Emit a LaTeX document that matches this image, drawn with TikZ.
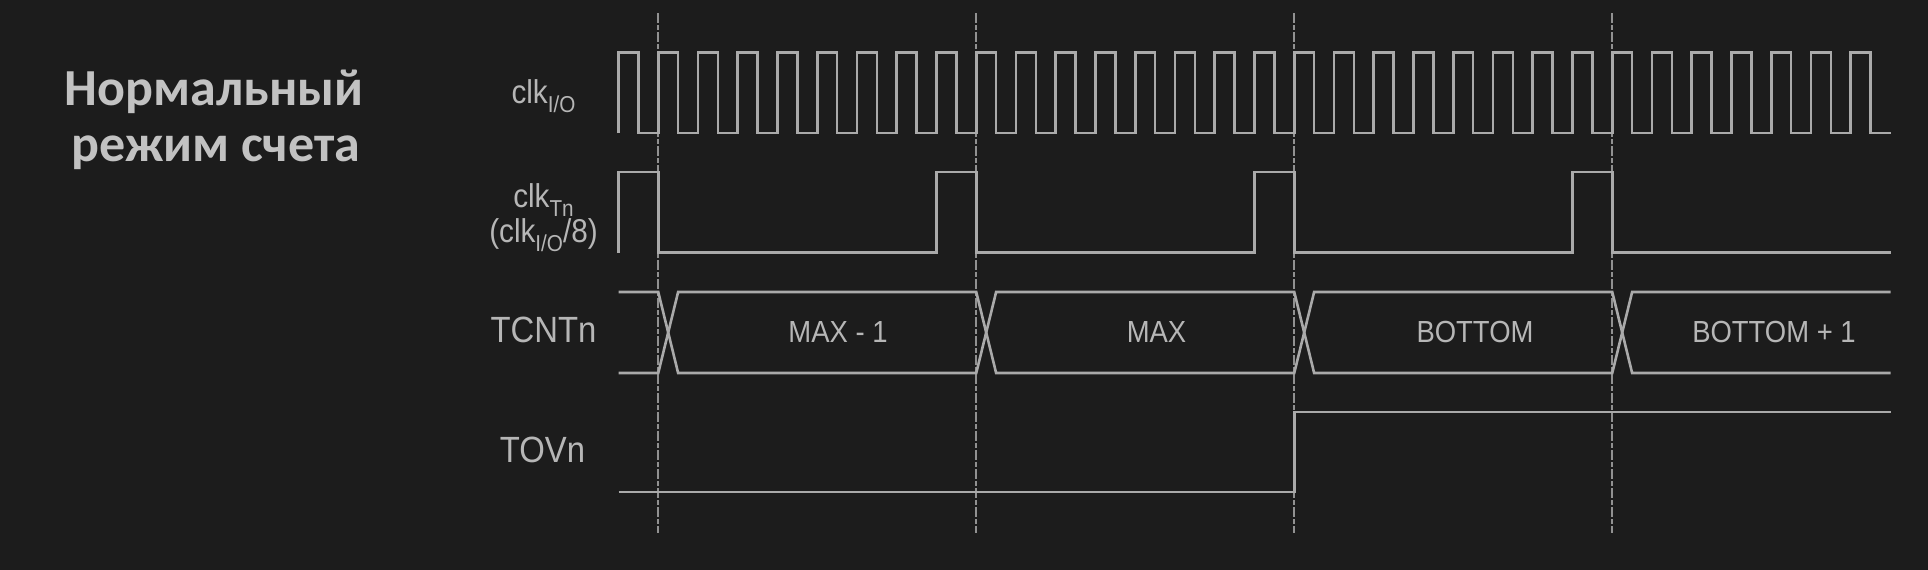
\documentclass[tikz,border=0pt]{standalone}
\usepackage{fontspec}
\setmainfont{Liberation Sans}
\newfontfamily\titlefont{Carlito}
\newfontfamily\condfont[FakeStretch=0.9]{Liberation Sans}
\definecolor{bg}{RGB}{28,28,28}
\definecolor{sig}{RGB}{170,170,170}
\definecolor{guidec}{RGB}{145,145,145}
\definecolor{lbl}{RGB}{182,182,182}
\definecolor{ttl}{RGB}{194,194,194}
\begin{document}
\begin{tikzpicture}[x=1pt,y=-1pt,
  signal/.style={draw=sig, line width=2.6pt, line join=miter},
  guide/.style={draw=guidec, line width=2pt, dash pattern=on 10pt off 2pt on 5pt off 2pt},
  lab/.style={text=lbl, inner sep=0pt, anchor=base, font=\condfont\fontsize{33}{33}\selectfont},
  biglab/.style={text=lbl, inner sep=0pt, anchor=base, font=\condfont\fontsize{36.5}{36.5}\selectfont},
  buslab/.style={text=lbl, inner sep=0pt, anchor=base, font=\condfont\fontsize{30.5}{30.5}\selectfont},
  titletext/.style={text=ttl, inner sep=0pt, anchor=base, font=\titlefont\bfseries\fontsize{52}{52}\selectfont}]
\fill[bg] (0,0) rectangle (1928,570);
\useasboundingbox (0,0) rectangle (1928,570);
\def\subtxt#1{\raisebox{-9pt}{\fontsize{23}{23}\selectfont #1}}
% guides
\foreach \d [count=\k] in {658.25,976.25,1294.25,1612.25}{
  \coordinate (gt\k) at (\d,13);
  \coordinate (gb\k) at (\d,533);
  \draw[guide] (gt\k) -- (gb\k);
}
% clk I/O
\coordinate (c0) at (618.5,133);
\draw[signal] (c0) \foreach \i in {0,...,31}{ -- ++(0,-80.5) -- ++(19.875,0) -- ++(0,80.5) -- ++(19.875,0) };
% clk Tn
\draw[signal] (618.5,252.5) -- (618.5,172) -- (658.25,172) -- (658.25,252.5)
  -- (936.5,252.5) -- (936.5,172) -- (976.25,172) -- (976.25,252.5)
  -- (1254.5,252.5) -- (1254.5,172) -- (1294.25,172) -- (1294.25,252.5)
  -- (1572.5,252.5) -- (1572.5,172) -- (1612.25,172) -- (1612.25,252.5) -- (1890.5,252.5);
% TCNTn
\draw[signal] (618.5,292) -- (658.25,292) -- (678.125,373) -- (976.25,373) -- (996.125,292)
  -- (1294.25,292) -- (1314.125,373) -- (1612.25,373) -- (1632.125,292) -- (1890.5,292);
\draw[signal] (618.5,373) -- (658.25,373) -- (678.125,292) -- (976.25,292) -- (996.125,373)
  -- (1294.25,373) -- (1314.125,292) -- (1612.25,292) -- (1632.125,373) -- (1890.5,373);
% TOVn
\draw[signal] (618.5,492) -- (1294.25,492) -- (1294.25,412) -- (1890.5,412);
% labels
\node[lab] (lclkio) at (543.5,103) {clk\subtxt{I/O}};
\node[lab] (lclktn) at (543.5,207) {clk\subtxt{Tn}};
\node[lab] (lclkdiv) at (543.5,242) {(clk\subtxt{I/O}/8)};
\node[biglab] (ltcnt) at (543.5,342) {TCNTn};
\node[biglab] (ltov) at (542.5,462) {TOVn};
\node[buslab] (v1) at (838,342) {MAX - 1};
\node[buslab] (v2) at (1156.5,342) {MAX};
\node[buslab] (v3) at (1475,342) {BOTTOM};
\node[buslab] (v4) at (1774,342) {BOTTOM + 1};
% title
\node[titletext] (t1) at (214,105) {Нормальный};
\node[titletext] (t2) at (216,161) {режим счета};
\end{tikzpicture}
\end{document}
